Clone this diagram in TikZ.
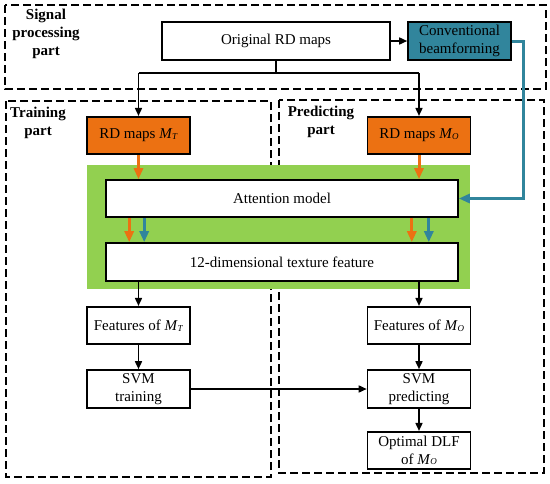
\documentclass[tikz,border=0pt]{standalone}
\usepackage{fontspec}
\setmainfont{Liberation Serif}
\usetikzlibrary{arrows.meta}
\definecolor{orng}{HTML}{EC7112}
\definecolor{teal}{HTML}{31859C}
\definecolor{grn}{HTML}{92D050}
\newcommand\Msub[1]{\textit{M}\kern-0.3pt\raisebox{-0.6pt}{\fontsize{9}{9}\selectfont\textit{#1}}}
\tikzset{
  base/.style={font=\fontsize{15}{18}\selectfont},
  box/.style={base,draw=black,line width=1.6pt,fill=white,rectangle,inner sep=0pt,align=center,minimum width=103pt,minimum height=37.5pt},
  obox/.style={box,fill=orng},
  tbox/.style={box,fill=teal},
  dashbox/.style={draw=black,line width=1.6pt,dash pattern=on 8pt off 4pt},
  lbl/.style={base,font=\fontsize{15}{18}\selectfont\bfseries,align=center,inner sep=0pt},
  arr/.style={line width=1.6pt,-{Triangle[length=8pt,width=7pt]}},
  ln/.style={line width=1.6pt},
  oarr/.style={draw=orng,line width=3pt,-{Triangle[length=11pt,width=9pt]}},
  barr/.style={draw=teal,line width=3pt,-{Triangle[length=11pt,width=9pt]}},
}
\begin{document}
\begin{tikzpicture}[x=1pt,y=-1pt]
\useasboundingbox (0,0) rectangle (550,483);
% dashed regions
\draw[dashbox] (5,5) rectangle (546,89);
\draw[dashbox] (6,101) rectangle (271,477);
\draw[dashbox] (279,100) rectangle (544,473);
\fill[grn] (87,165) rectangle (470,289);
% labels
\node[lbl] (lsig) at (46,34) {Signal\\processing\\part};
\node[lbl] (ltr) at (38,123) {Training\\part};
\node[lbl] (lpr) at (321,122) {Predicting\\part};
% boxes
\node[box,minimum width=228pt,minimum height=38pt] (orig) at (276,41) {Original RD maps};
\node[tbox,minimum height=38pt] (conv) at (459.5,41) {Conventional\\beamforming};
\node[obox] (mt) at (138.5,135.5) {RD maps \Msub{T}};
\node[obox] (mo) at (419,135.5) {RD maps \Msub{O}};
\node[box,minimum width=352pt,minimum height=37pt] (att) at (282,198.5) {Attention model};
\node[box,minimum width=352pt,minimum height=38pt] (dim) at (282,262) {12-dimensional texture feature};
\node[box] (ft) at (138.5,325.5) {Features of \Msub{T}};
\node[box] (fo) at (419,325.5) {Features of \Msub{O}};
\node[box,minimum height=38pt] (svt) at (138.5,389) {SVM\\training};
\node[box,minimum height=38pt] (svp) at (419,389) {SVM\\predicting};
\node[box] (opt) at (419,450.5) {Optimal DLF\\of \Msub{O}};
% connectors
\coordinate (jl) at (138.5,73);
\coordinate (jr) at (419,73);
\draw[arr] (orig.east) -- (conv.west);
\draw[ln] (orig.south) -- (orig.south |- jl);
\draw[ln] (jl) -- (jr);
\draw[arr] (jl) -- (mt.north);
\draw[arr] (jr) -- (mo.north);
\draw[oarr] (mt.south) -- (mt.south |- att.north);
\draw[oarr] (mo.south) -- (mo.south |- att.north);
\draw[barr] (conv.east) -- ++(12,0) |- (att.east);
\draw[oarr] ([xshift=24pt]att.south west) -- ([xshift=24pt]dim.north west);
\draw[barr] ([xshift=39pt]att.south west) -- ([xshift=39pt]dim.north west);
\draw[oarr] ([xshift=-47pt]att.south east) -- ([xshift=-47pt]dim.north east);
\draw[barr] ([xshift=-30pt]att.south east) -- ([xshift=-30pt]dim.north east);
\draw[arr] (ft.north |- dim.south) -- (ft.north);
\draw[arr] (fo.north |- dim.south) -- (fo.north);
\draw[arr] (ft) -- (svt);
\draw[arr] (fo) -- (svp);
\draw[arr] (svp) -- (opt);
\draw[arr] (svt.east) -- (svp.west);
\end{tikzpicture}
\end{document}
